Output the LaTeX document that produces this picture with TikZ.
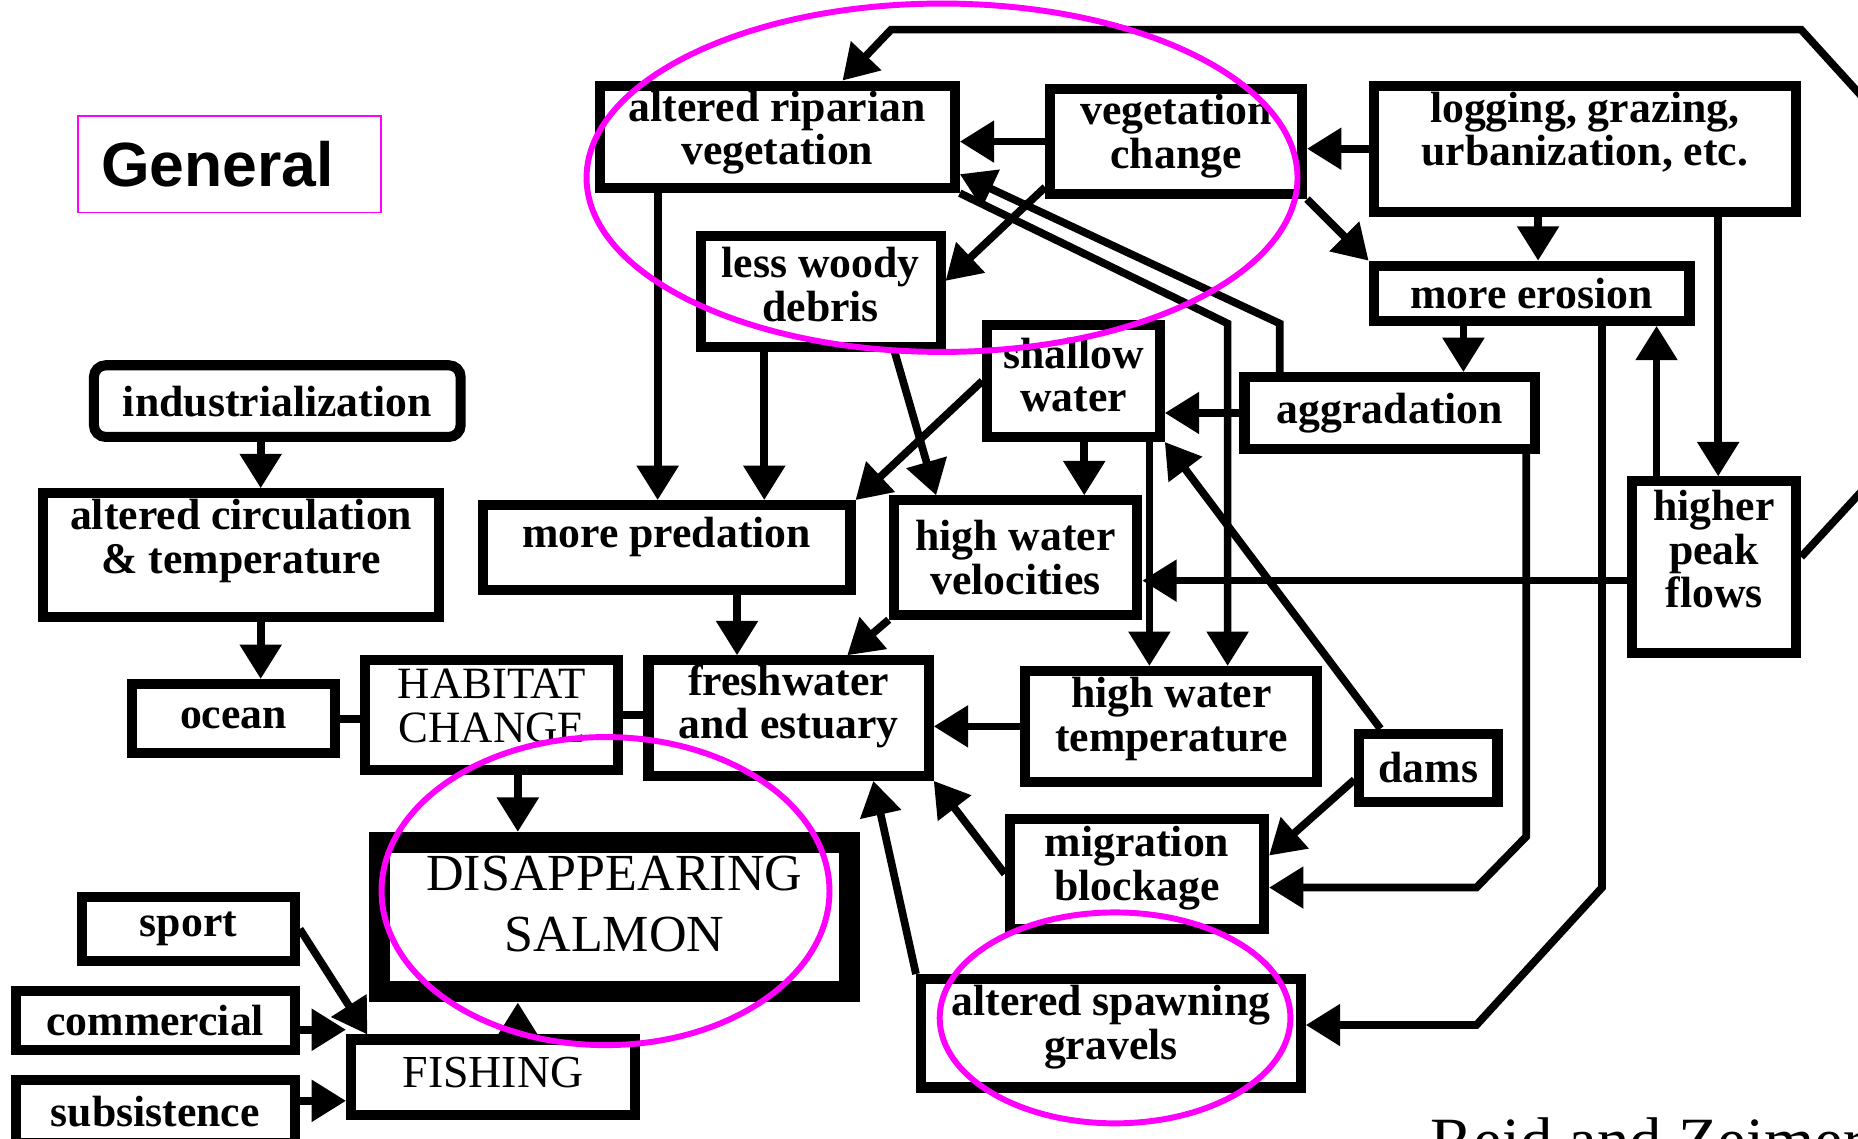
\documentclass[tikz,border=0pt]{standalone}
\usepackage{fontspec}
\setmainfont{Liberation Serif}
\newfontfamily\sansfont{Liberation Sans}
\usetikzlibrary{arrows.meta}
\definecolor{ringpink}{RGB}{255,0,255}

\begin{document}
\begin{tikzpicture}[x=0.2mm, y=-0.2mm,
    box/.style={draw, line width=1.7mm, inner sep=0pt},
    sz/.style 2 args={minimum width=(#1-8.5)*0.2mm, minimum height=(#2-8.5)*0.2mm},
    txt/.style={align=center, font=\bfseries\fontsize{21}{21}\selectfont},
    caps/.style={align=center, font=\fontsize{21.5}{21}\selectfont},
    arr/.style={line width=1.3mm, -{Triangle[width=6.8mm,length=5.8mm]}},
    tie/.style={line width=1.3mm},
    ring/.style={draw=ringpink, line width=1mm}]

    % 画布
    \useasboundingbox (0,0) rectangle (1568,961);

    % 标题
    \node[draw=ringpink, line width=.3mm, inner sep=0pt, minimum width=51.1mm, minimum height=16.3mm,
        label={[font=\sansfont\bfseries\fontsize{30}{30}\selectfont, xshift=-2mm]center:General}] (gen) at (193.5,138.5) {};

    % 上排方框
    \node[box, sz={308}{95}, label={[txt, yshift=.7mm]center:{altered riparian\\vegetation}}] (ripar) at (656,115.5) {};
    \node[box, sz={221}{97}, label={[txt, yshift=.9mm]center:{vegetation\\change}}] (vegch) at (992.5,119.5) {};
    \node[box, sz={365}{115}, label={[txt, yshift=2.8mm]center:{logging, grazing,\\urbanization, etc.}}] (logg) at (1337.5,125.5) {};
    \node[box, sz={211}{102}, label={[txt, yshift=1.2mm]center:{less woody\\debris}}] (woody) at (692.5,246) {};
    \node[box, sz={275}{55}, label={[txt]center:{more erosion}}] (eros) at (1292.5,247.5) {};
    \node[box, sz={154}{103}, label={[txt, yshift=1mm]center:{shallow\\water}}] (shallow) at (906,321.5) {};
    \node[box, sz={254}{69}, label={[txt]center:{aggradation}}] (aggr) at (1173,348.5) {};

    % 中排方框
    \node[box, rounded corners=2mm, sz={318}{69}, label={[txt]center:{industrialization}}] (indus) at (234,338.5) {};
    \node[box, sz={343}{113}, label={[txt, yshift=2.4mm]center:{altered circulation\\\& temperature}}] (circ) at (203.5,468.5) {};
    \node[box, sz={319}{80}, label={[txt, yshift=1.8mm]center:{more predation}}] (pred) at (562.5,462) {};
    \node[box, sz={214}{105}, label={[txt]center:{high water\\velocities}}] (veloc) at (857,470.5) {};
    \node[box, sz={147}{153}, label={[txt, yshift=3mm]center:{higher\\peak\\flows}}] (peak) at (1446.5,478.5) {};
    \node[box, sz={180}{67}, label={[txt]center:{ocean}}] (ocean) at (197,606.5) {};
    \node[box, sz={222}{101}, label={[caps, yshift=1.6mm]center:{HABITAT\\CHANGE}}] (habit) at (415,603.5) {};
    \node[box, sz={245}{106}, label={[txt, yshift=2mm]center:{freshwater\\and estuary}}] (fresh) at (665.5,606) {};
    \node[box, sz={255}{102}, label={[txt, yshift=1.2mm]center:{high water\\temperature}}] (temp) at (988.5,613) {};
    \node[box, sz={125}{66}, label={[txt]center:{dams}}] (dams) at (1205.5,648) {};
    \node[box, sz={223}{101}, label={[txt, yshift=1mm]center:{migration\\blockage}}] (migr) at (959.5,737.5) {};

    % 下排方框
    \node[box, line width=3.6mm, minimum width=(415-18)*0.2mm, minimum height=(144-18)*0.2mm,
        label={[align=center, font=\fontsize{25}{29.5}\selectfont, yshift=2.2mm]center:{DISAPPEARING\\SALMON}}] (salmon) at (518.5,774) {};
    \node[box, sz={188}{62}, label={[txt]center:{sport}}] (sport) at (159,784) {};
    \node[box, sz={244}{58}, label={[txt]center:{commercial}}] (comm) at (131,861) {};
    \node[box, sz={244}{62}, label={[txt]center:{subsistence}}] (subs) at (131,938) {};
    \node[box, sz={248}{72}, label={[caps, font=\fontsize{22}{22}\selectfont, yshift=.8mm]center:{FISHING}}] (fish) at (416,909) {};
    \node[box, sz={329}{100}, label={[txt, yshift=1mm]center:{altered spawning\\gravels}}] (spawn) at (937.5,872) {};

    % 出处
    \node[anchor=base west, inner sep=0pt, font=\fontsize{31}{31}\selectfont] (src) at (1207,981) {Reid and Zeimer};

    % 上部箭头
    \draw[arr] (vegch.west) -- (vegch.west -| ripar.east);
    \draw[arr] (logg.west) -- (logg.west -| vegch.east);
    \draw[arr] ([yshift=2mm]vegch.south west) -- ([yshift=1.8mm]woody.east);
    \draw[arr] (vegch.south east) -- (eros.north west);
    \draw[arr] (logg.south -| 1298,0) -- (eros.north -| 1298,0);
    \draw[arr] (logg.south -| 1450,0) -- (peak.north -| 1450,0);
    \draw[arr] (peak.north -| 1398,0) -- (eros.south -| 1398,0);
    \draw[arr] (eros.south -| 1235,0) -- (aggr.north -| 1235,0);
    \draw[arr] (aggr.west) -- (aggr.west -| shallow.east);

    % 大回路
    \draw[arr] (peak.east |- 0,470) -- (1590,394) -- (1590,102) -- (1520,25) -- (752,25) -- (ripar.north -| 711,0);

    % 双斜线
    \draw[arr] (aggr.north -| 1080,0) -- (1080,273) -- (ripar.east |- 0,147);
    \draw[arr] (ripar.south east) -- (1036,273) -- (temp.north -| 1036,0);

    % 中部箭头
    \draw[arr] (ripar.south -| 555,0) -- (pred.north -| 555,0);
    \draw[arr] (woody.south -| 645,0) -- (pred.north -| 645,0);
    \draw[arr] (woody.south -| 755,0) -- (veloc.north -| 790,0);
    \draw[arr] (shallow.west) -- (pred.north east);
    \draw[arr] (shallow.south -| 915,0) -- (veloc.north -| 915,0);
    \draw[arr] (shallow.south -| 970,0) -- (temp.north -| 970,0);
    \draw[arr] (peak.west |- 0,490) -- (veloc.east |- 0,490);
    \draw[arr] (dams.north -| 1165,0) -- (shallow.south east);
    \draw[arr] (dams.west |- 0,658) -- (migr.east |- 0,722);
    \draw[arr] (aggr.south -| 1288,0) -- (1288,706) -- (1246,749) -- (migr.east |- 0,749);
    \draw[arr] (eros.south -| 1352,0) -- (1352,749) -- (1246,865) -- (spawn.east |- 0,865);

    % 流向淡水
    \draw[arr] (pred.south -| 622,0) -- (fresh.north -| 622,0);
    \draw[arr] (veloc.south west) -- (fresh.north -| 715,0);
    \draw[arr] (temp.west) -- (temp.west -| fresh.east);
    \draw[arr] (migr.west) -- (fresh.south east);
    \draw[arr] (spawn.north west) -- (fresh.south -| 737,0);

    % 左侧
    \draw[arr] (indus.south -| 220,0) -- (circ.north -| 220,0);
    \draw[arr] (circ.south -| 220,0) -- (ocean.north -| 220,0);
    \draw[tie] (ocean.east) -- (ocean.east -| habit.west);
    \draw[tie] (habit.east) -- (habit.east -| fresh.west);
    \draw[arr] (habit.south -| 437,0) -- (salmon.north -| 437,0);

    % 捕捞
    \draw[arr] (fish.north -| 437,0) -- (salmon.south -| 437,0);
    \draw[arr] (sport.east) -- (fish.north -| 310,0);
    \draw[arr] (comm.east |- 0,869) -- (fish.west |- 0,869);
    \draw[arr] (subs.east |- 0,929) -- (fish.west |- 0,929);

    % 品红圈
    \draw[ring] (795,150) ellipse (300 and 147);
    \draw[ring] (511,752) ellipse (189 and 130);
    \draw[ring] (941,859) ellipse (148 and 89);
\end{tikzpicture}
\end{document}
